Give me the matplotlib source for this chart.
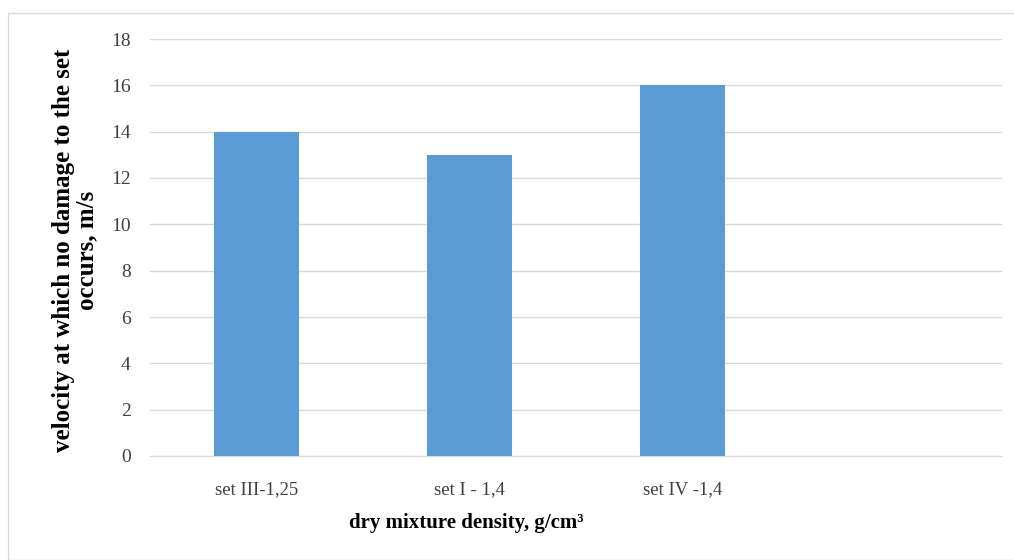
import matplotlib
matplotlib.use("Agg")
import matplotlib.pyplot as plt
from matplotlib.patches import Rectangle

categories = ["set III-1,25", "set I - 1,4", "set IV -1,4", ""]
velocity = [14, 13, 16, None]
y_ticks = [0, 2, 4, 6, 8, 10, 12, 14, 16, 18]

plt.rcParams["font.family"] = ["Liberation Serif", "DejaVu Serif"]

W, H = 1014, 560
fig = plt.figure(figsize=(W / 100, H / 100), dpi=100)
ax = fig.add_axes([150 / W, 1 - 456 / H, 852 / W, 417 / H])

# outer chart-area border
fig.patches.append(Rectangle((8 / W, 0.0), 1.0, 1 - 13 / H,
                             transform=fig.transFigure, fill=False,
                             edgecolor="#d9d9d9", linewidth=1.0))

xs = list(range(len(categories)))
heights = [v if v is not None else 0 for v in velocity]
bars = ax.bar(xs, heights, width=0.4, color="#5b9bd5", zorder=3)
for b, v in zip(bars, velocity):
    if v is None:
        b.set_visible(False)

ax.set_xlim(-0.5, len(categories) - 0.5)
ax.set_ylim(0, 18)
ax.set_yticks(y_ticks)
ax.set_xticks(xs)
ax.set_xticklabels(categories)
ax.grid(axis="y", color="#d9d9d9", linewidth=1.0, zorder=0)
ax.set_axisbelow(True)
for side in ["top", "right", "left"]:
    ax.spines[side].set_visible(False)
ax.spines["bottom"].set_color("#d9d9d9")
ax.tick_params(axis="both", length=0, colors="#404040")
ax.tick_params(axis="y", pad=14, labelsize=14)
ax.tick_params(axis="x", pad=18, labelsize=13.5)

fig.text(466 / W, 1 - 523 / H, "dry mixture density, g/cm³",
         fontsize=15, fontweight="bold", color="black",
         ha="center", va="center")
fig.text(75 / W, 1 - 250 / H, "velocity at which no damage to the set\noccurs, m/s",
         fontsize=18, fontweight="bold", color="black", rotation=90,
         ha="center", va="center", multialignment="center", linespacing=1.05)

fig.savefig("out.png", dpi=100)
